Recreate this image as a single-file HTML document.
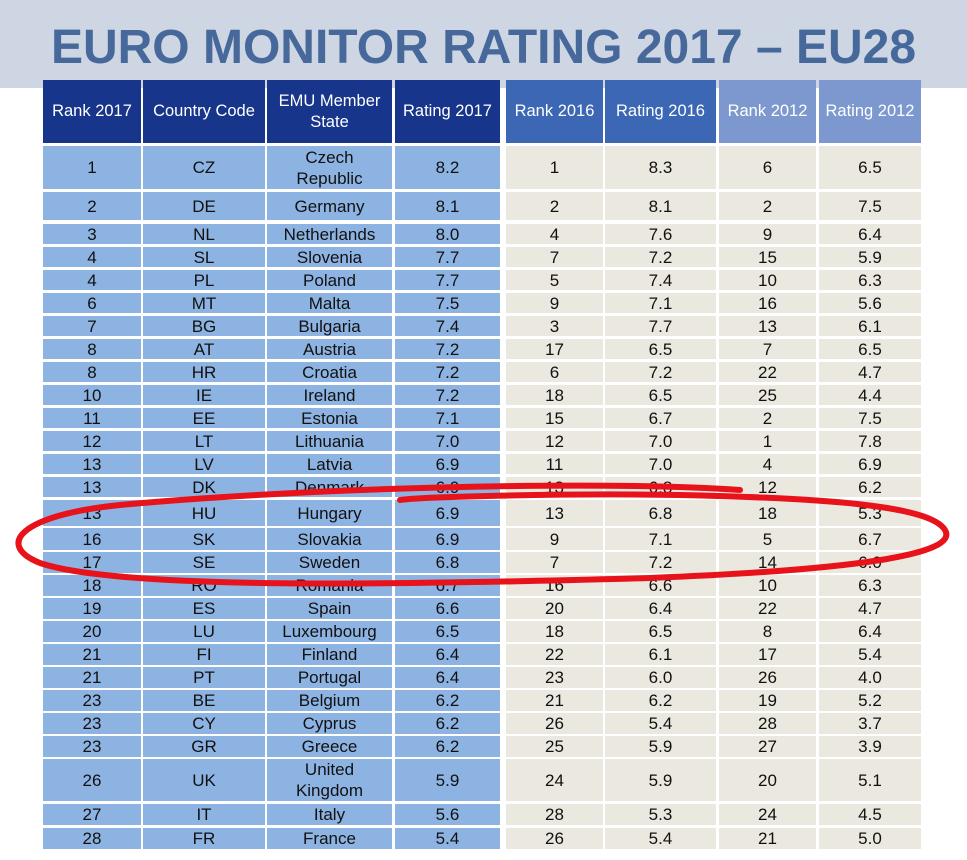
<!DOCTYPE html>
<html><head><meta charset="utf-8"><style>
body{margin:0;width:967px;height:860px;background:#fff;position:relative;overflow:hidden;font-family:"Liberation Sans",sans-serif}
.band{position:absolute;left:0;top:0;width:967px;height:88px;background:#cdd6e2}
.title{position:absolute;left:0;width:967px;top:20px;text-align:center;font-weight:bold;font-size:48px;color:#46689a;white-space:nowrap}
.c{position:absolute;display:flex;align-items:center;justify-content:center;text-align:center;font-size:17px;color:#111;line-height:21px}
.h{color:#fff;font-size:16.5px}
</style></head><body>
<div class="band"></div>
<div class="title">EURO MONITOR RATING 2017 – EU28</div>
<div id="t"></div>
<svg style="position:absolute;left:0;top:0" width="967" height="860">
<path d="M740,490 C600,480 300,488 120,505 C20,515 -5,545 40,563 C120,590 400,585 650,578 C850,570 960,555 945,530 C930,505 820,498 680,495 C560,493 420,497 400,500" fill="none" stroke="#e8121a" stroke-width="6" stroke-linecap="round"/>
</svg>
<script>
var cols=[[43,98],[143,122],[267,125],[395,105],[506,97],[605,111],[719,97],[819,102]];
var hdr=["Rank 2017","Country Code","EMU Member<br>State","Rating 2017","Rank 2016","Rating 2016","Rank 2012","Rating 2012"];
var hc=["#17358a","#17358a","#17358a","#17358a","#3c67b4","#3c67b4","#7c98ce","#7c98ce"];
var d=[["1","CZ","Czech<br>Republic","8.2","1","8.3","6","6.5"],["2","DE","Germany","8.1","2","8.1","2","7.5"],["3","NL","Netherlands","8.0","4","7.6","9","6.4"],["4","SL","Slovenia","7.7","7","7.2","15","5.9"],["4","PL","Poland","7.7","5","7.4","10","6.3"],["6","MT","Malta","7.5","9","7.1","16","5.6"],["7","BG","Bulgaria","7.4","3","7.7","13","6.1"],["8","AT","Austria","7.2","17","6.5","7","6.5"],["8","HR","Croatia","7.2","6","7.2","22","4.7"],["10","IE","Ireland","7.2","18","6.5","25","4.4"],["11","EE","Estonia","7.1","15","6.7","2","7.5"],["12","LT","Lithuania","7.0","12","7.0","1","7.8"],["13","LV","Latvia","6.9","11","7.0","4","6.9"],["13","DK","Denmark","6.9","13","6.8","12","6.2"],["13","HU","Hungary","6.9","13","6.8","18","5.3"],["16","SK","Slovakia","6.9","9","7.1","5","6.7"],["17","SE","Sweden","6.8","7","7.2","14","6.0"],["18","RO","Romania","6.7","16","6.6","10","6.3"],["19","ES","Spain","6.6","20","6.4","22","4.7"],["20","LU","Luxembourg","6.5","18","6.5","8","6.4"],["21","FI","Finland","6.4","22","6.1","17","5.4"],["21","PT","Portugal","6.4","23","6.0","26","4.0"],["23","BE","Belgium","6.2","21","6.2","19","5.2"],["23","CY","Cyprus","6.2","26","5.4","28","3.7"],["23","GR","Greece","6.2","25","5.9","27","3.9"],["26","UK","United<br>Kingdom","5.9","24","5.9","20","5.1"],["27","IT","Italy","5.6","28","5.3","24","4.5"],["28","FR","France","5.4","26","5.4","21","5.0"]];
var rows=[[146,43],[192,28]];
for(var i=3;i<=14;i++)rows.push([224+23*(i-3),20]);
rows.push([500,26],[528,22],[552,21]);
for(var i=18;i<=25;i++)rows.push([575+23*(i-18),21]);
rows.push([759,42],[804,21],[828,21]);
var h="";
cols.forEach(function(c,j){h+='<div class="c h" style="left:'+c[0]+'px;top:80px;width:'+c[1]+'px;height:63px;background:'+hc[j]+'">'+hdr[j]+'</div>';});
d.forEach(function(r,i){var R=rows[i];cols.forEach(function(c,j){h+='<div class="c" style="left:'+c[0]+'px;top:'+R[0]+'px;width:'+c[1]+'px;height:'+R[1]+'px;background:'+(j<4?'#8db3e2':'#ebe8df')+'">'+r[j]+'</div>';});});
document.getElementById("t").innerHTML=h;
</script>
</body></html>
